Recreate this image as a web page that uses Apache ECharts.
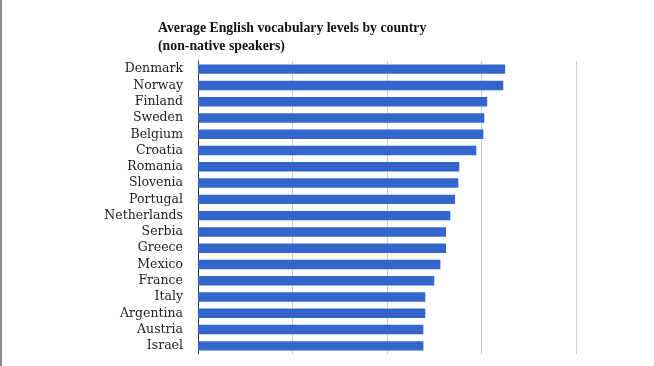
<!DOCTYPE html>
<html>
<head>
<meta charset="utf-8">
<script src="https://cdn.jsdelivr.net/npm/echarts@6/dist/echarts.min.js"></script>
<style>
html,body{margin:0;padding:0;background:#fff;}
#c{width:654px;height:366px;}
</style>
</head>
<body>
<div id="c"></div>
<script>
var titleLines = ['Average English vocabulary levels by country', '(non-native speakers)'];
var countries = ['Denmark','Norway','Finland','Sweden','Belgium','Croatia','Romania','Slovenia','Portugal','Netherlands','Serbia','Greece','Mexico','France','Italy','Argentina','Austria','Israel'];
var vocab = [6500,6460,6120,6060,6040,5890,5530,5510,5440,5340,5250,5250,5130,5000,4810,4810,4770,4770];

var chart = echarts.init(document.getElementById('c'));
chart.setOption({
  animation: false,
  backgroundColor: '#fff',
  title: {
    text: titleLines.join('\n'),
    left: 153,
    top: 14,
    textStyle: {fontFamily: 'Liberation Serif', fontSize: 13.8, fontWeight: 'bold', color: '#111', lineHeight: 18}
  },
  graphic: [{type: 'rect', left: 0, top: 0, shape: {width: 2, height: 366}, style: {fill: '#8a8a8a'}}],
  grid: {left: 198, right: 78, top: 61, bottom: 12},
  xAxis: {
    type: 'value', min: 0, max: 8000, interval: 2000,
    axisLabel: {show: false},
    axisLine: {show: false}, axisTick: {show: false},
    splitLine: {lineStyle: {color: '#cccccc', width: 1}}
  },
  yAxis: {
    type: 'category', data: countries, inverse: true,
    axisTick: {show: false},
    axisLine: {lineStyle: {color: '#333', width: 1}},
    axisLabel: {interval: 0, fontFamily: 'DejaVu Serif', fontSize: 12.5, color: '#222', margin: 15}
  },
  series: [{
    type: 'bar', data: vocab, barWidth: '58%',
    itemStyle: {color: '#3366cc'}
  }]
});
</script>
</body>
</html>
